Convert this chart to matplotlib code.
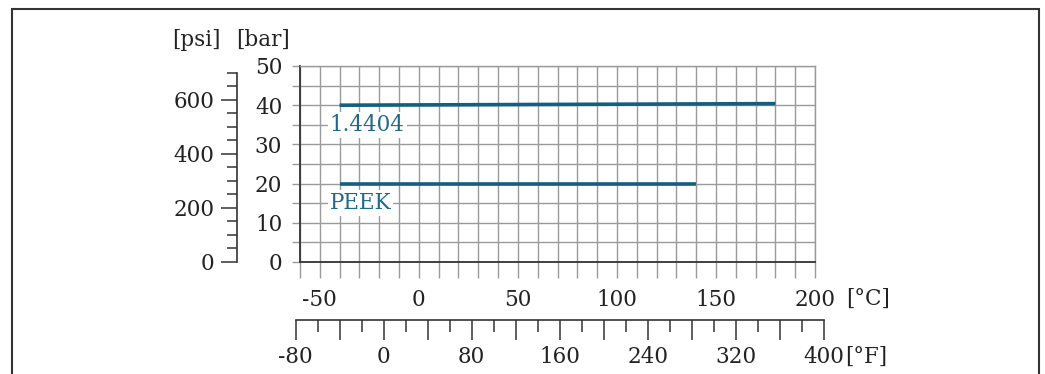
import matplotlib
matplotlib.use("Agg")
import matplotlib.pyplot as plt
from matplotlib.patches import Rectangle
from matplotlib.ticker import MultipleLocator, FuncFormatter

# datos
materiales = ["1.4404", "PEEK"]
temp_c = [[-40, 180], [-40, 140]]
pres_bar = [[40, 40.4], [20, 20]]
etiqueta_pos = [(-45, 35), (-45, 15)]

bar_ticks = [0, 10, 20, 30, 40, 50]
psi_ticks = [0, 200, 400, 600]
c_ticks = [-50, 0, 50, 100, 150, 200]
f_ticks = [-80, 0, 80, 160, 240, 320, 400]

plt.rcParams["font.family"] = ["DejaVu Serif"]
plt.rcParams["font.size"] = 15.5

W, H = 1045, 374
fig = plt.figure(figsize=(W / 100, H / 100), dpi=100)

azul = "#135f7f"
gris = "#9a9a9a"
oscuro = "#333333"
texto = "#222222"

# eje principal (bar / °C), en pixeles
x0, x1, y0, y1 = 300, 815, 66, 262
ax = fig.add_axes([x0 / W, 1 - y1 / H, (x1 - x0) / W, (y1 - y0) / H])
xmin, xmax = -60, 200
ax.set_xlim(xmin, xmax)
ax.set_ylim(0, 50)
ax.xaxis.set_major_locator(MultipleLocator(10))
ax.yaxis.set_major_locator(MultipleLocator(5))
ax.grid(True, color=gris, linewidth=1.0)
ax.set_axisbelow(True)
ax.xaxis.set_major_formatter(FuncFormatter(lambda v, p: f"{int(v)}" if int(v) in c_ticks else ""))
ax.yaxis.set_major_formatter(FuncFormatter(lambda v, p: f"{int(v)}" if int(v) in bar_ticks else ""))
ax.tick_params(axis="x", length=11.5, width=1.0, color=gris, pad=8, labelcolor=texto)
ax.tick_params(axis="y", length=5.8, width=1.0, color=gris, pad=7, labelcolor=texto)
for s in ["top", "right"]:
    ax.spines[s].set_color(gris)
    ax.spines[s].set_linewidth(1.0)
for s in ["left", "bottom"]:
    ax.spines[s].set_color(oscuro)
    ax.spines[s].set_linewidth(1.3)

for nombre, tx, py, (lx, ly) in zip(materiales, temp_c, pres_bar, etiqueta_pos):
    ax.plot(tx, py, color=azul, linewidth=2.6, solid_capstyle="butt")
    ax.text(lx, ly, nombre, color="#1f6a8a", ha="left", va="center",
            bbox=dict(facecolor="white", edgecolor="none", pad=1.5))

# eje psi
psi_x = 237
psi_max = 50 * 14.5038
axp = fig.add_axes([psi_x / W, 1 - y1 / H, 0.001, (y1 - y0) / H])
axp.set_ylim(0, psi_max)
axp.set_xticks([])
for s in ["top", "right", "bottom"]:
    axp.spines[s].set_visible(False)
axp.spines["left"].set_bounds(0, 700)
axp.spines["left"].set_color(oscuro)
axp.spines["left"].set_linewidth(1.2)
axp.patch.set_visible(False)
axp.set_yticks(psi_ticks)
axp.yaxis.set_minor_locator(MultipleLocator(50))
axp.tick_params(axis="y", which="major", length=11.5, width=1.1, color=oscuro, pad=5, labelcolor=texto)
axp.tick_params(axis="y", which="minor", length=7.2, width=1.1, color=oscuro)

# eje °F
def f_a_c(f):
    return (f - 32) * 5 / 9

px_por_c = (x1 - x0) / (xmax - xmin)
fx0 = x0 + (f_a_c(f_ticks[0]) - xmin) * px_por_c
fx1 = x0 + (f_a_c(f_ticks[-1]) - xmin) * px_por_c
fy = 320
axf = fig.add_axes([fx0 / W, 1 - fy / H, (fx1 - fx0) / W, 0.001])
axf.set_xlim(f_ticks[0], f_ticks[-1])
axf.set_yticks([])
for s in ["top", "right", "left"]:
    axf.spines[s].set_visible(False)
axf.spines["bottom"].set_color(oscuro)
axf.spines["bottom"].set_linewidth(1.2)
axf.patch.set_visible(False)
axf.xaxis.set_major_locator(MultipleLocator(40))
axf.xaxis.set_minor_locator(MultipleLocator(20))
axf.xaxis.set_major_formatter(FuncFormatter(lambda v, p: f"{int(v)}" if int(v) in f_ticks else ""))
axf.tick_params(axis="x", which="major", length=14.4, width=1.1, color=oscuro, pad=4, labelcolor=texto)
axf.tick_params(axis="x", which="minor", length=8.3, width=1.1, color=oscuro)

# unidades
fig.text(196 / W, 1 - 40 / H, "[psi]", ha="center", va="center", color=texto)
fig.text(263 / W, 1 - 40 / H, "[bar]", ha="center", va="center", color=texto)
fig.text(846 / W, 1 - 299 / H, "[°C]", ha="left", va="center", color=texto)
fig.text(845 / W, 1 - 357 / H, "[°F]", ha="left", va="center", color=texto)

# marco
fig.add_artist(Rectangle((12 / W, -0.1), (1039 - 12) / W, 1.1 - 9.5 / H,
                         transform=fig.transFigure, fill=False,
                         edgecolor=oscuro, linewidth=1.5))

fig.savefig("out.png", dpi=100)
